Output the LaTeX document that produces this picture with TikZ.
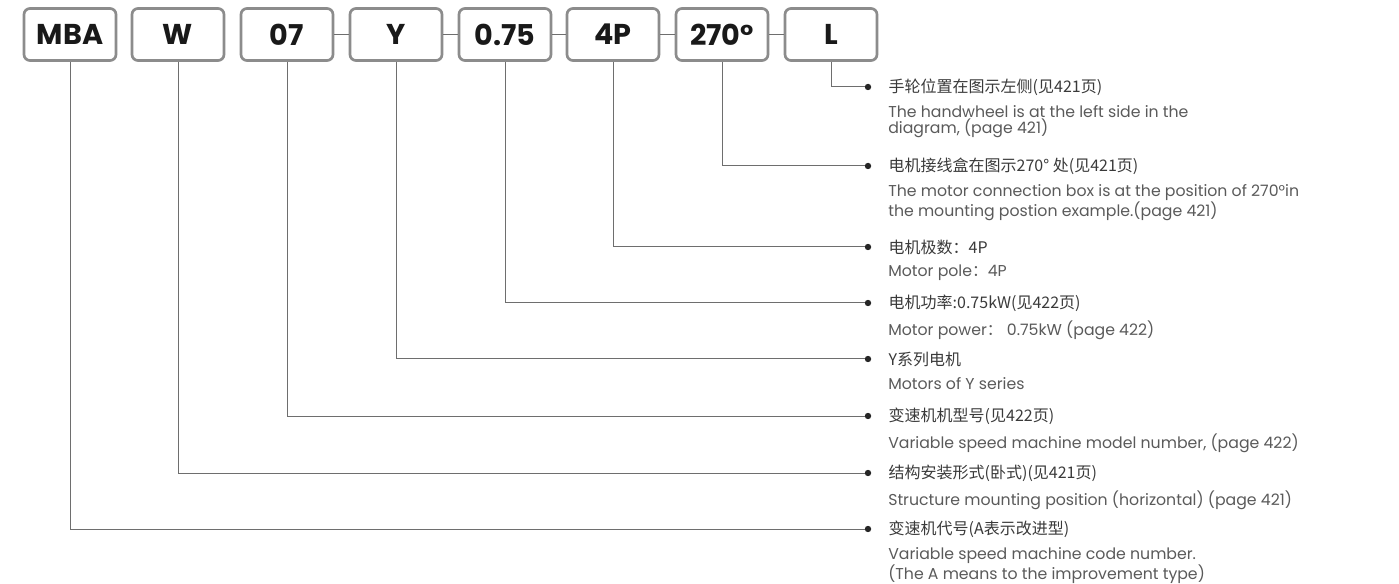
\documentclass[tikz,border=0pt]{standalone}
\usepackage{fontspec}
\setmainfont{Poppins}
\newfontfamily\cjk{Noto Sans CJK SC}
\definecolor{boxgray}{HTML}{8C8C8C}
\definecolor{linegray}{HTML}{6E6E6E}
\definecolor{textdark}{HTML}{3A3A3A}
\definecolor{textgray}{HTML}{5A5A5A}

\begin{document}
\begin{tikzpicture}[
    x=0.75pt, y=-0.75pt,
    code/.style={
        rectangle, draw=boxgray, line width=2pt, rounded corners=4.5pt,
        fill=white, minimum width=69pt, minimum height=39pt, inner sep=0pt,
        font=\fontsize{21.5}{21.5}\selectfont\bfseries, text=black!90
    },
    link/.style={draw=linegray, line width=0.75pt},
    tip/.style={circle, fill=black!85, inner sep=0pt, minimum size=4.8pt},
    cnline/.style={anchor=west, font=\cjk\fontsize{12}{12}\selectfont, text=textdark},
    enline/.style={anchor=north west, align=left, inner sep=0pt,
        font=\fontsize{11.8}{12}\selectfont, text=textgray},
]
    \useasboundingbox (0,0) rectangle (1399,584);

    % Box row height, x of the end dots and of the notes.
    \def\yBox{34.5}
    \def\xDot{868}
    \def\xText{884}

    % ---------- code boxes ----------
    \node[code] (mba) at (70, \yBox) {MBA};
    \node[code] (w) at (178, \yBox) {W};
    \node[code] (size) at (287, \yBox) {07};
    \node[code] (motor) at (396, \yBox) {Y};
    \node[code] (power) at (505, \yBox) {0.75};
    \node[code] (pole) at (613, \yBox) {4P};
    \node[code] (box) at (722, \yBox) {270°};
    \node[code] (wheel) at (831, \yBox) {L};

    % short dashes between the boxes
    \draw[link] (size) -- (motor);
    \draw[link] (motor) -- (power);
    \draw[link] (power) -- (pole);
    \draw[link] (pole) -- (box);
    \draw[link] (box) -- (wheel);

    % ---------- end dots ----------
    \node[tip] (dot-wheel) at (\xDot, 87) {};
    \node[tip] (dot-box) at (\xDot, 166) {};
    \node[tip] (dot-pole) at (\xDot, 247) {};
    \node[tip] (dot-power) at (\xDot, 303) {};
    \node[tip] (dot-motor) at (\xDot, 359) {};
    \node[tip] (dot-size) at (\xDot, 416) {};
    \node[tip] (dot-w) at (\xDot, 473) {};
    \node[tip] (dot-mba) at (\xDot, 529) {};

    \draw[link] (wheel.south) |- (dot-wheel);
    \draw[link] (box.south) |- (dot-box);
    \draw[link] (pole.south) |- (dot-pole);
    \draw[link] (power.south) |- (dot-power);
    \draw[link] (motor.south) |- (dot-motor);
    \draw[link] (size.south) |- (dot-size);
    \draw[link] (w.south) |- (dot-w);
    \draw[link] (mba.south) |- (dot-mba);

    % ---------- notes ----------
    \node[cnline] (cn-wheel) at (\xText, 87) {手轮位置在图示左侧(见421页)};
    \node[enline] (en-wheel) at (\xText+4, 105) {The handwheel is at the left side in the\\diagram, (page 421)};

    \node[cnline] (cn-box) at (\xText, 166) {电机接线盒在图示270°\ 处(见421页)};
    \node[enline] (en-box) at (\xText+4, 184) {The motor connection box is at the position of 270°in\\the mounting postion example.(page 421)};

    \node[cnline] (cn-pole) at (\xText, 247) {电机极数：4P};
    \node[enline] (en-pole) at (\xText+4, 265) {Motor pole{\cjk ：}4P};

    \node[cnline] (cn-power) at (\xText, 303) {电机功率:0.75kW(见422页)};
    \node[enline] (en-power) at (\xText+4, 321) {Motor power{\cjk ：}\ 0.75kW (page 422)};

    \node[cnline] (cn-motor) at (\xText, 359) {Y系列电机};
    \node[enline] (en-motor) at (\xText+4, 377) {Motors of Y series};

    \node[cnline] (cn-size) at (\xText, 416) {变速机机型号(见422页)};
    \node[enline] (en-size) at (\xText+4, 434) {Variable speed machine model number, (page 422)};

    \node[cnline] (cn-w) at (\xText, 473) {结构安装形式(卧式)(见421页)};
    \node[enline] (en-w) at (\xText+4, 491) {Structure mounting position (horizontal) (page 421)};

    \node[cnline] (cn-mba) at (\xText, 529) {变速机代号(A表示改进型)};
    \node[enline] (en-mba) at (\xText+4, 547) {Variable speed machine code number.\\(The A means to the improvement type)};

\end{tikzpicture}
\end{document}
